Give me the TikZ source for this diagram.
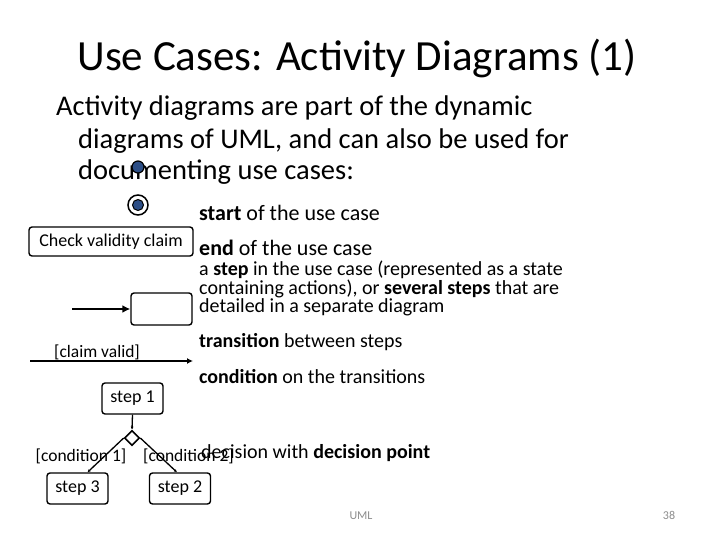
\documentclass[tikz,border=0pt]{standalone}
\usepackage{fontspec}
\setmainfont{Carlito}
\usepackage{xcolor}
\usepackage{tikz}
\usetikzlibrary{positioning,arrows.meta,shapes.geometric}
\definecolor{dotblue}{RGB}{44,78,134}
\definecolor{footgrey}{RGB}{140,140,140}
\newcommand{\fs}[2]{\fontsize{#1}{#2}\selectfont}
\tikzset{
  stepbox/.style ={draw, rounded corners=3pt, line width=1.4pt, fill=white,
                   minimum width=61pt, minimum height=31pt, inner sep=2pt,
                   font=\fs{18}{20}},
  note/.style    ={anchor=base west, inner sep=0pt, font=\fs{20}{17.5}, align=left},
  cond/.style    ={inner sep=0pt, font=\fs{17.5}{20}},
  ar/.style      ={-{Latex[length=8pt,width=8pt]}, line width=2pt},
  sar/.style     ={-{Latex[length=3pt,width=3pt]}, line width=1.3pt},
}
\begin{document}
\begin{tikzpicture}[x=1pt,y=-1pt]
\useasboundingbox (0,0) rectangle (720,540);
% heading and intro
\node[anchor=base, inner sep=0pt, font=\fs{43}{50}] (title) at (357,71)
  {Use Cases: Activity Diagrams (1)};
\node[anchor=base west, inner sep=0pt, font=\fs{28.5}{33}] (intro1) at (56,116)
  {Activity diagrams are part of the dynamic};
\node[anchor=base west, inner sep=0pt, font=\fs{28.5}{33}] (intro2) at (78,149)
  {diagrams of UML, and can also be used for};
\node[anchor=base west, inner sep=0pt, font=\fs{28.5}{33}] (intro3) at (78,180)
  {documenting use cases:};

% symbols
\node[circle, fill=dotblue, draw=black, line width=1.2pt, minimum size=12pt,
  inner sep=0pt] (start) at (138,167) {};
\node[circle, draw=black, line width=1.5pt, minimum size=20pt, inner sep=0pt]
  (endout) at (138,205) {};
\node[circle, fill=dotblue, draw=black, line width=1pt, minimum size=11pt,
  inner sep=0pt] (endin) at (endout) {};
\node[stepbox, minimum width=164pt, minimum height=29pt] (claim) at (111,241.5)
  {Check validity claim};
\node[stepbox, minimum height=32pt] (onestep) at (161.5,309) {};
\coordinate (inarr) at (72,309);
\draw[ar] (inarr) -- (onestep.west);
\coordinate (trfrom) at (30,361);
\coordinate (trto) at (193,361);
\draw[-{Latex[length=6pt,width=6pt]}, line width=1.6pt] (trfrom) -- (trto);
\node[cond, anchor=base] (valid) at (97,357) {[claim valid]};

% decision
\node[stepbox] (s1) at (132.5,398.5) {step 1};
\node[diamond, draw, fill=white, line width=1.6pt, minimum size=15pt,
  inner sep=0pt] (dec) at (132,438) {};
\node[stepbox] (s3) at (77.5,488.5) {step 3};
\node[stepbox] (s2) at (180,488.5) {step 2};
\draw[sar] (s1.south) -- (dec.north);
\draw[sar] (dec.west) -- ([xshift=10pt]s3.north);
\draw[sar] (dec.east) -- ([xshift=-3pt]s2.north);
\node[cond, anchor=base] (c1) at (81,461) {[condition 1]};
\node[cond, anchor=base west] (c2) at (143,461) {[condition 2]};

% explanations
\node[note, font=\fs{22}{20}] (nstart) at (199,221) {\textbf{start} of the use case};
\node[note, font=\fs{22}{20}] (nend) at (199,255) {\textbf{end} of the use case};
\node[note] (nstep) at (199,312)
  {a \textbf{step} in the use case (represented as a state\\
   containing actions), or \textbf{several steps} that are\\
   detailed in a separate diagram};
\node[note] (ntrans) at (199,347) {\textbf{transition} between steps};
\node[note] (ncond) at (199,383) {\textbf{condition} on the transitions};
\node[note] (ndec) at (201,458) {decision with \textbf{decision point}};

% footer
\node[anchor=base, inner sep=0pt, font=\fs{12}{14}, text=footgrey] (foot) at (361,519) {UML};
\node[anchor=base, inner sep=0pt, font=\fs{12}{14}, text=footgrey] (page) at (669,519) {38};
\end{tikzpicture}
\end{document}
